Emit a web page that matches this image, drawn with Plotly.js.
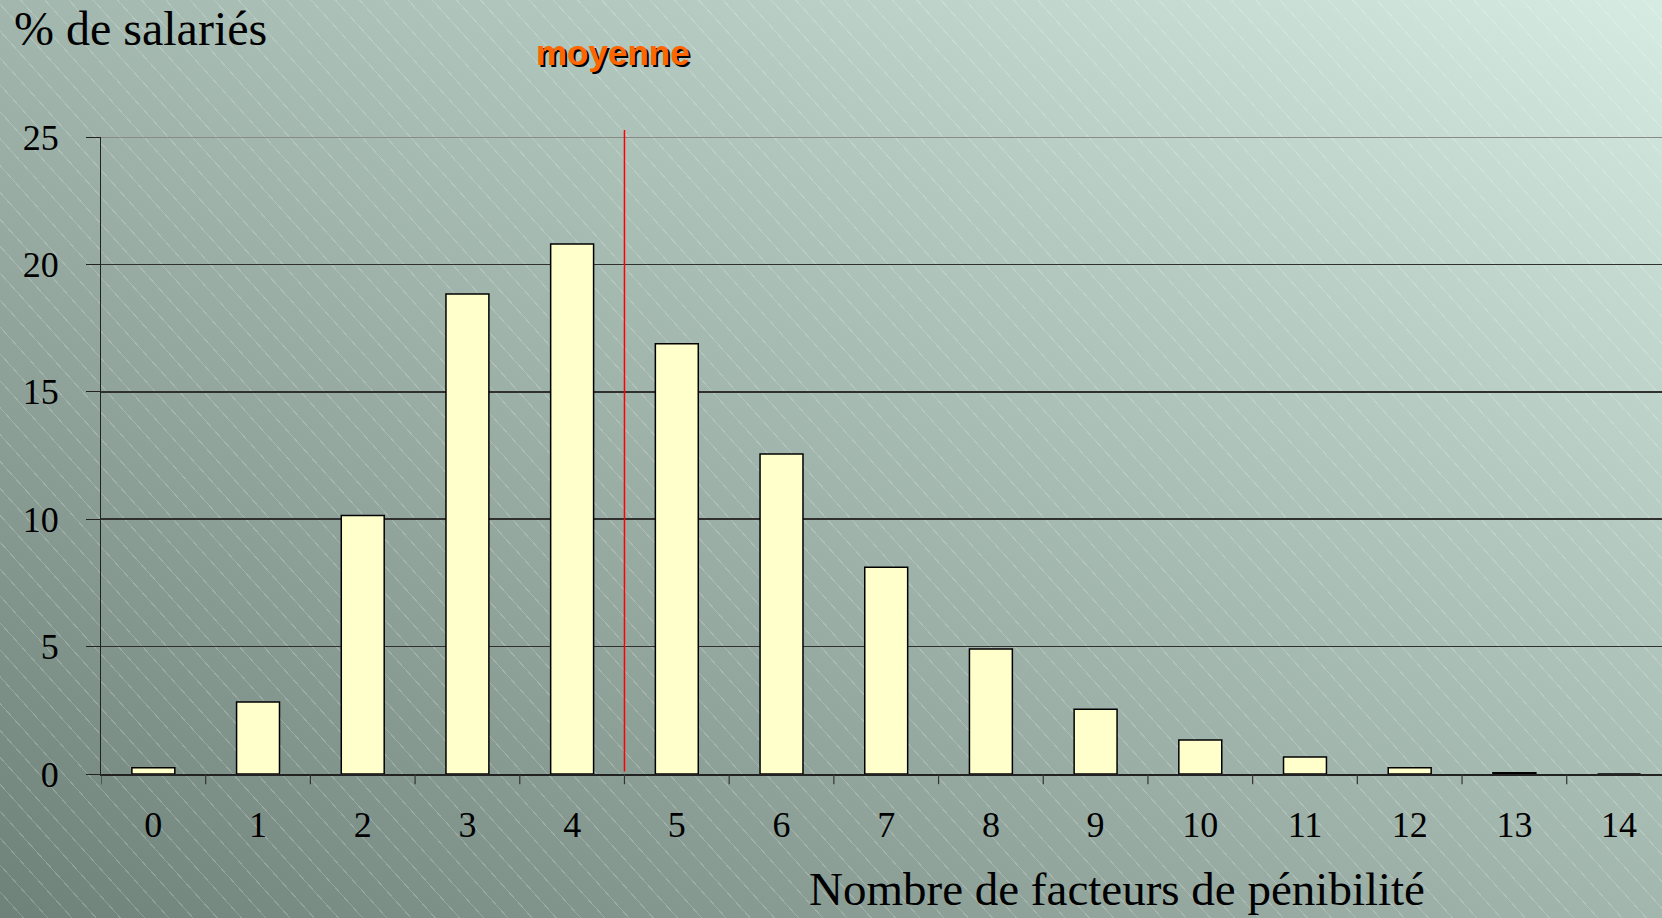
<!DOCTYPE html>
<html><head><meta charset="utf-8">
<script src="https://cdn.plot.ly/plotly-3.0.1.min.js"></script>
<style>
html,body{margin:0;padding:0;}
body{width:1662px;height:918px;overflow:hidden;
background:
 repeating-linear-gradient(48deg, rgba(255,255,255,0) 0px, rgba(255,255,255,0) 17px, rgba(255,255,255,0.2) 17px, rgba(255,255,255,0.2) 18px),
 linear-gradient(to top right, #6f827a 0%, #98aca3 40%, #b5cbc2 70%, #d6ece3 100%);}
#chart{width:1662px;height:918px;}
</style></head>
<body><div id="chart"></div>
<script>
const categories = ["0","1","2","3","4","5","6","7","8","9","10","11","12","13","14"];
const pctSalaries = [0.25, 2.83, 10.15, 18.84, 20.8, 16.89, 12.56, 8.11, 4.91, 2.54, 1.33, 0.67, 0.25, 0.05, 0];
const meanPosition = 4.5;
const yTicks = [0, 5, 10, 15, 20, 25];

const trace = {
  type: 'bar', x: categories.map(Number), y: pctSalaries,
  marker: {color: '#ffffcc', line: {color: '#000000', width: 1.5}},
  width: 0.41, hoverinfo: 'skip'
};

const layout = {
  width: 1662, height: 918,
  paper_bgcolor: 'rgba(0,0,0,0)', plot_bgcolor: 'rgba(0,0,0,0)',
  margin: {l: 101, r: 0, t: 137, b: 144},
  showlegend: false,
  font: {family: 'Liberation Serif, Times New Roman, serif', color: '#000'},
  xaxis: {
    range: [-0.5, 14.41], tickmode: 'array', tickvals: categories.map(Number), ticktext: categories,
    showgrid: false, zeroline: false, showline: true, linecolor: '#222', linewidth: 1.5,
    ticks: '', tickfont: {size: 36, family: 'Liberation Serif'}, ticklabelstandoff: 18,
    fixedrange: true
  },
  yaxis: {
    range: [0, 25], tickvals: yTicks, showgrid: true, gridcolor: '#303030', gridwidth: 1.5,
    zeroline: false, showline: true, linecolor: '#222', linewidth: 1,
    ticks: 'outside', ticklen: 14, tickcolor: '#222',
    tickfont: {size: 36, family: 'Liberation Serif'}, ticklabelstandoff: 20,
    fixedrange: true
  },
  shapes: [
    {type:'line', xref:'paper', x0:0, x1:1, yref:'y', y0:25, y1:25, line:{color:'#8a8a8a', width:2}},
    ...Array.from({length: categories.length}, (_, i) => ({
      type:'line', xref:'x', x0:i-0.5, x1:i-0.5, yref:'paper', y0:0, y1:-0.016, line:{color:'#333', width:1.2}
    })),
    {type:'line', xref:'x', x0:meanPosition, x1:meanPosition, yref:'paper', y0:0.004, y1:1.011, line:{color:'#ff0000', width:1.5}}
  ],
  annotations: [
    {text: '% de salariés', xref:'paper', yref:'paper', x: -0.0572, y: 1.171, xanchor:'left', yanchor:'middle',
     showarrow:false, font:{size: 48, family:'Liberation Serif', color:'#000'}},
    {text: 'Nombre de facteurs de pénibilité', xref:'paper', yref:'paper', x: 0.651, y: -0.181, xanchor:'center', yanchor:'middle',
     showarrow:false, font:{size: 47, family:'Liberation Serif', color:'#000'}},
    {text: '<b>moyenne</b>', xref:'x', yref:'paper', x: 4.39, y: 1.133, xanchor:'center', yanchor:'middle',
     showarrow:false, font:{size: 35, family:'Liberation Sans, Arial, sans-serif', color:'#ff6600', shadow:'2px 2px 0px #000'}}
  ]
};

Plotly.newPlot('chart', [trace], layout, {staticPlot: true, displayModeBar: false});
</script></body></html>
